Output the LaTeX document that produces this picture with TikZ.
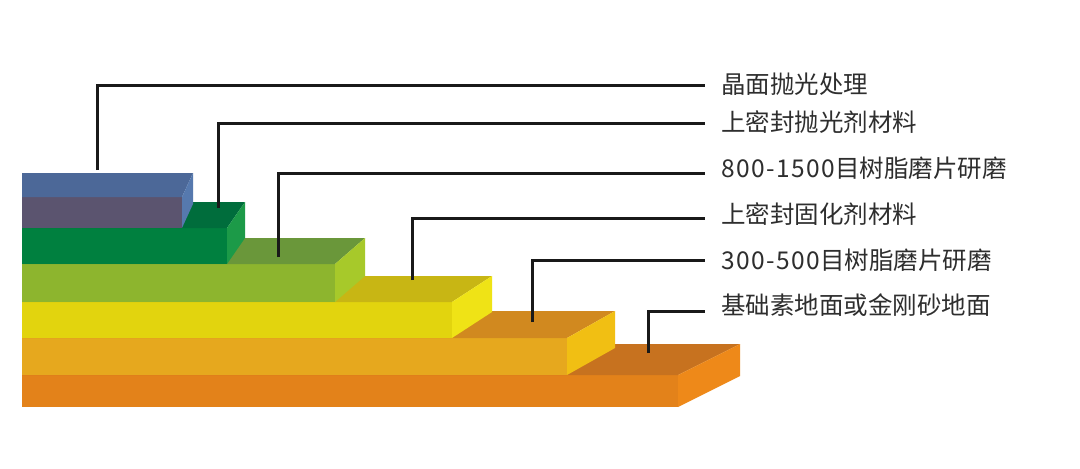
\documentclass[tikz,border=0pt]{standalone}
\usepackage{fontspec}
\usepackage{xcolor}
\usepackage{tikz}
\usetikzlibrary{positioning,calc}
\newfontfamily\cjk{Noto Sans CJK SC}
\newcommand\digs[1]{{\addfontfeature{LetterSpace=6}#1}}

% layer colours: front / top / side
\definecolor{frA}{HTML}{E3821A}\definecolor{tpA}{HTML}{C7721F}\definecolor{sdA}{HTML}{EE8919}
\definecolor{frB}{HTML}{E6A81E}\definecolor{tpB}{HTML}{D1891F}\definecolor{sdB}{HTML}{F1BF13}
\definecolor{frC}{HTML}{E2D40E}\definecolor{tpC}{HTML}{C8B614}\definecolor{sdC}{HTML}{EFE316}
\definecolor{frD}{HTML}{8DB52E}\definecolor{tpD}{HTML}{6A973A}\definecolor{sdD}{HTML}{A7C92A}
\definecolor{frE}{HTML}{00803F}\definecolor{tpE}{HTML}{006D3C}\definecolor{sdE}{HTML}{1C9A48}
\definecolor{frF}{HTML}{5B546F}\definecolor{tpF}{HTML}{4C6898}\definecolor{sdF}{HTML}{5679AE}
\definecolor{labeltext}{HTML}{2E2E2E}

\tikzset{
    leader/.style={line width=1.5pt, draw=black!90},
    lbl/.style={anchor=west, inner sep=0pt, text=labeltext, font=\cjk\fontsize{12.25}{14}\selectfont}
}

\begin{document}
\begin{tikzpicture}[x=0.5pt, y=-0.5pt]
    \useasboundingbox[fill=white] (0,0) rectangle (1080,468);
    % layers, bottom to top
    \foreach \rx/\ty/\by/\dx/\dy/\lay in {678/375/407/62/31/A, 567/338/375/48/27/B, 452/302/338/40/26/C, 335/264/302/30/26/D, 227/228/264/18/26/E, 182/197/228/11/24/F} {
        \fill[fr\lay] (22,\ty) rectangle (\rx,\by);
        \fill[tp\lay] (22,\ty) -- (\rx,\ty) -- ++(\dx,-\dy) -- (22,\ty-\dy) -- cycle;
        \fill[sd\lay] (\rx,\ty) -- ++(\dx,-\dy) -- ++(0,\by-\ty) -- (\rx,\by) -- cycle;
    }
    % labels and leaders
    \foreach \n/\ly/\tly/\cx/\cy/\txt in {1/85/84/97/170/晶面抛光处理, 2/123/122/218/208/上密封抛光剂材料, 3/173/168/278/257/\digs{800-1500}目树脂磨片研磨, 4/218/214/412/280/上密封固化剂材料, 5/260/260/532/322/\digs{300-500}目树脂磨片研磨, 6/311/305/648/353/基础素地面或金刚砂地面} {
        \coordinate (tip\n) at (\cx,\cy);
        \coordinate (end\n) at (705,\ly);
        \node[lbl] (lbl\n) at (721,\tly) {\txt};
        \draw[leader] (tip\n) |- (end\n);
    }
\end{tikzpicture}
\end{document}
